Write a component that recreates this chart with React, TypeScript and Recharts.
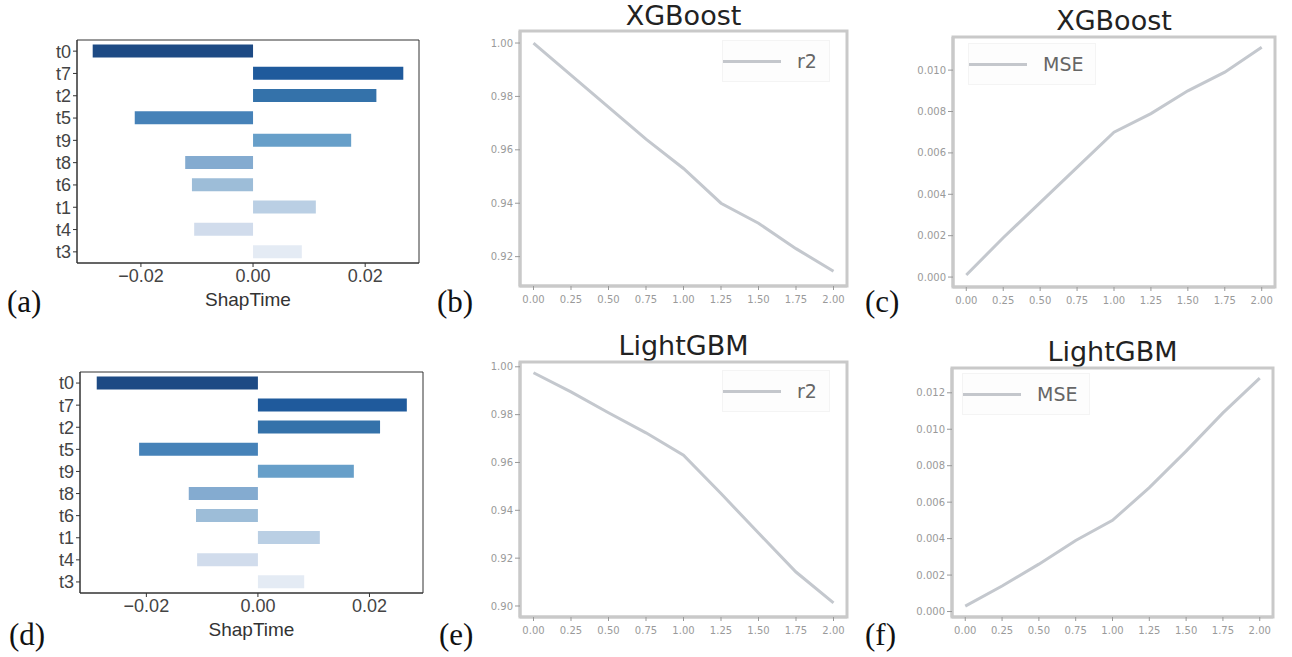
import React from 'react'
import {
  BarChart,
  Bar,
  Cell,
  LineChart,
  Line,
  XAxis,
  YAxis,
  Legend,
  ReferenceArea,
} from 'recharts'

// feature importance (ShapTime), top to bottom
const features = ['t0', 't7', 't2', 't5', 't9', 't8', 't6', 't1', 't4', 't3']
const shapXgb = [-0.0286, 0.0268, 0.022, -0.0211, 0.0175, -0.0121, -0.0109, 0.0112, -0.0105, 0.0087]
const shapLgbm = [-0.0289, 0.0267, 0.0219, -0.0213, 0.0172, -0.0124, -0.0111, 0.0111, -0.0109, 0.0083]
const barColors = ['#1d4a84', '#1f5a9c', '#3472aa', '#4682b8', '#679fc9', '#84abd0', '#9dbdd8', '#bacfe4', '#d1dcec', '#e4ebf4']
const shapTicks = [-0.02, 0, 0.02]

// metric curves
const xSteps = [0, 0.25, 0.5, 0.75, 1, 1.25, 1.5, 1.75, 2]
const r2Xgb = [1.0, 0.988, 0.976, 0.964, 0.953, 0.94, 0.9325, 0.923, 0.9145]
const mseXgb = [0.0001, 0.0019, 0.0036, 0.0053, 0.007, 0.0079, 0.009, 0.0099, 0.0111]
const r2Lgbm = [0.9975, 0.9895, 0.9808, 0.9724, 0.963, 0.947, 0.9305, 0.9142, 0.9013]
const mseLgbm = [0.0003, 0.0014, 0.0026, 0.0039, 0.005, 0.0068, 0.0088, 0.0109, 0.0128]
const r2XgbTicks = [0.92, 0.94, 0.96, 0.98, 1.0]
const r2LgbmTicks = [0.9, 0.92, 0.94, 0.96, 0.98, 1.0]
const mseXgbTicks = [0, 0.002, 0.004, 0.006, 0.008, 0.01]
const mseLgbmTicks = [0, 0.002, 0.004, 0.006, 0.008, 0.01, 0.012]
const xDomain: [number, number] = [-0.09, 2.09]

const sans = '"Liberation Sans", Arial, sans-serif'
const dejavu = '"DejaVu Sans", sans-serif'
const serif = '"Liberation Serif", "DejaVu Serif", serif'

const minus = (v: number) => v.toFixed(2).replace('-', '\u2212')

interface ShapPanelProps {
  values: number[]
  left: number
  top: number
  height: number
  margin: { top: number; right: number; bottom: number; left: number }
  domain: [number, number]
}

function ShapPanel({ values, left, top, height, margin, domain }: ShapPanelProps) {
  const rows = features.map((name, i) => ({ name, value: values[i] }))
  return (
    <div style={{ position: 'absolute', left, top }}>
      <BarChart width={430} height={height} data={rows} layout="vertical" margin={margin} barCategoryGap="20%">
        <XAxis
          type="number"
          dataKey="value"
          domain={domain}
          allowDataOverflow
          ticks={shapTicks}
          tickFormatter={minus}
          height={57}
          stroke="#333"
          tickSize={4}
          tick={{ fill: '#444', fontSize: 18, fontFamily: sans }}
          label={{ value: 'ShapTime', position: 'insideBottom', offset: 14, fill: '#333', fontSize: 19, fontFamily: sans }}
        />
        <YAxis
          type="category"
          dataKey="name"
          width={40}
          interval={0}
          stroke="#333"
          tickSize={4}
          tick={{ fill: '#444', fontSize: 18, fontFamily: sans }}
        />
        <Bar dataKey="value" isAnimationActive={false}>
          {rows.map((r, i) => (
            <Cell key={r.name} fill={barColors[i]} />
          ))}
        </Bar>
        <ReferenceArea x1={domain[0]} x2={domain[1]} fill="none" stroke="#333" strokeWidth={1} ifOverflow="visible" />
      </BarChart>
    </div>
  )
}

interface CurvePanelProps {
  title: string
  name: string
  values: number[]
  yTicks: number[]
  yDomain: [number, number]
  digits: number
  left: number
  top: number
  width: number
  height: number
  margin: { top: number; right: number; bottom: number; left: number }
  titleTop: number
  legendPos: { top: number; left: number }
}

const yAxisWidth = 60

function CurvePanel(p: CurvePanelProps) {
  const rows = xSteps.map((x, i) => ({ x, y: p.values[i] }))
  const tickStyle = { fill: '#9a9a9a', fontSize: 10, fontFamily: dejavu }
  const frame = '#c9c9c9'
  return (
    <div style={{ position: 'absolute', left: p.left, top: p.top, width: p.width, height: p.height }}>
      <div
        style={{
          position: 'absolute',
          left: p.margin.left + yAxisWidth,
          width: p.width - p.margin.left - yAxisWidth - p.margin.right,
          top: p.titleTop,
          textAlign: 'center',
          fontFamily: dejavu,
          fontSize: 27,
          color: '#222',
          lineHeight: '32px',
        }}
      >
        {p.title}
      </div>
      <LineChart width={p.width} height={p.height} data={rows} margin={p.margin}>
        <XAxis
          type="number"
          dataKey="x"
          domain={xDomain}
          allowDataOverflow
          ticks={xSteps}
          tickFormatter={(v: number) => v.toFixed(2)}
          height={22}
          stroke={frame}
          strokeWidth={3}
          tickSize={4}
          tickMargin={6}
          tickLine={{ stroke: '#999', strokeWidth: 1 }}
          tick={tickStyle}
        />
        <YAxis
          domain={p.yDomain}
          allowDataOverflow
          ticks={p.yTicks}
          interval={0}
          tickFormatter={(v: number) => v.toFixed(p.digits)}
          width={yAxisWidth}
          stroke={frame}
          strokeWidth={3}
          tickSize={5}
          tickLine={{ stroke: '#999', strokeWidth: 1 }}
          tick={tickStyle}
        />
        <ReferenceArea
          x1={xDomain[0]}
          x2={xDomain[1]}
          y1={p.yDomain[0]}
          y2={p.yDomain[1]}
          fill="none"
          stroke={frame}
          strokeWidth={3}
          ifOverflow="visible"
        />
        <Legend
          layout="horizontal"
          verticalAlign="middle"
          align="center"
          wrapperStyle={{ top: p.legendPos.top, left: p.legendPos.left, width: 'auto' }}
          content={() => (
            <div
              style={{
                display: 'flex',
                alignItems: 'center',
                padding: '9px 12px 9px 0',
                border: '1px solid #f4f4f4',
                background: '#fdfdfd',
              }}
            >
              <div style={{ width: 58, height: 3, background: '#c4c7cc', marginRight: 16 }} />
              <span style={{ fontFamily: dejavu, fontSize: 19, lineHeight: '22px', color: '#666' }}>{p.name}</span>
            </div>
          )}
        />
        <Line
          type="linear"
          dataKey="y"
          name={p.name}
          stroke="#c4c8ce"
          strokeWidth={3}
          dot={false}
          isAnimationActive={false}
        />
      </LineChart>
    </div>
  )
}

const tagStyle: React.CSSProperties = {
  position: 'absolute',
  fontFamily: serif,
  fontSize: 31,
  color: '#111',
  lineHeight: '31px',
}

export default function App() {
  return (
    <div style={{ position: 'absolute', left: 0, top: 0, width: 1292, height: 657, background: '#fff', overflow: 'hidden' }}>
      <ShapPanel
        values={shapXgb}
        left={0}
        top={0}
        height={320}
        margin={{ top: 40, right: 11, bottom: 0, left: 37 }}
        domain={[-0.0314, 0.0296]}
      />
      <ShapPanel
        values={shapLgbm}
        left={0}
        top={330}
        height={327}
        margin={{ top: 42, right: 7, bottom: 7, left: 40 }}
        domain={[-0.0319, 0.0296]}
      />
      <CurvePanel
        title="XGBoost"
        name="r2"
        values={r2Xgb}
        yTicks={r2XgbTicks}
        yDomain={[0.909, 1.0045]}
        digits={2}
        left={430}
        top={0}
        width={430}
        height={320}
        margin={{ top: 31, right: 13, bottom: 12, left: 30 }}
        titleTop={0}
        legendPos={{ top: 40, left: 292 }}
      />
      <CurvePanel
        title="XGBoost"
        name="MSE"
        values={mseXgb}
        yTicks={mseXgbTicks}
        yDomain={[-0.00048, 0.0116]}
        digits={3}
        left={860}
        top={0}
        width={432}
        height={320}
        margin={{ top: 37, right: 17, bottom: 11, left: 33 }}
        titleTop={5}
        legendPos={{ top: 43, left: 108 }}
      />
      <CurvePanel
        title="LightGBM"
        name="r2"
        values={r2Lgbm}
        yTicks={r2LgbmTicks}
        yDomain={[0.8954, 1.002]}
        digits={2}
        left={430}
        top={330}
        width={430}
        height={327}
        margin={{ top: 32, right: 13, bottom: 18, left: 30 }}
        titleTop={0}
        legendPos={{ top: 40, left: 292 }}
      />
      <CurvePanel
        title="LightGBM"
        name="MSE"
        values={mseLgbm}
        yTicks={mseLgbmTicks}
        yDomain={[-0.0003, 0.01336]}
        digits={3}
        left={860}
        top={330}
        width={432}
        height={327}
        margin={{ top: 38, right: 19, bottom: 18, left: 32 }}
        titleTop={6}
        legendPos={{ top: 43, left: 102 }}
      />
      <div style={{ ...tagStyle, left: 7, top: 286 }}>(a)</div>
      <div style={{ ...tagStyle, left: 437, top: 286 }}>(b)</div>
      <div style={{ ...tagStyle, left: 865, top: 286 }}>(c)</div>
      <div style={{ ...tagStyle, left: 9, top: 619 }}>(d)</div>
      <div style={{ ...tagStyle, left: 439, top: 619 }}>(e)</div>
      <div style={{ ...tagStyle, left: 865, top: 619 }}>(f)</div>
    </div>
  )
}
